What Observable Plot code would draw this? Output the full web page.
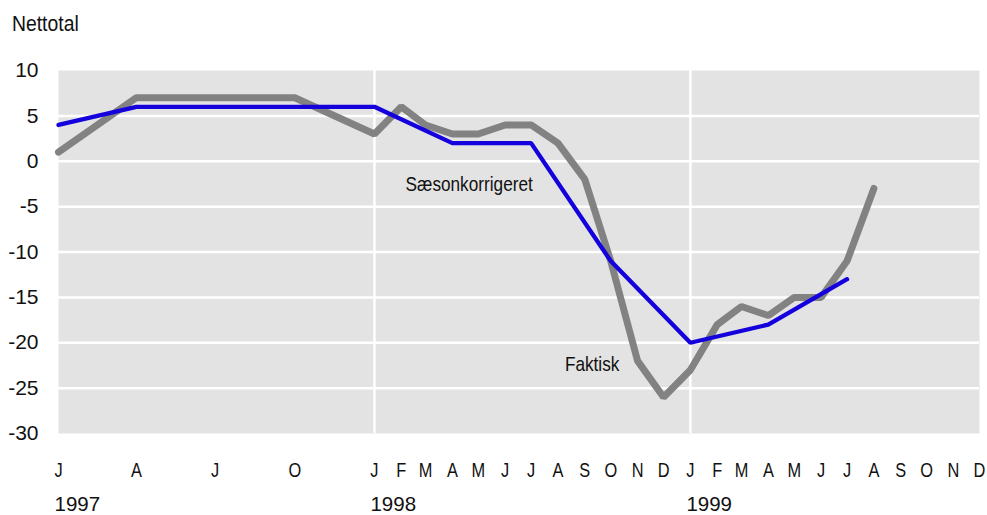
<!DOCTYPE html>
<html>
<head>
<meta charset="utf-8">
<script src="https://cdn.jsdelivr.net/npm/d3@7"></script>
<script src="https://cdn.jsdelivr.net/npm/@observablehq/plot@0.6"></script>
<style>
  body { margin: 0; background: #fff; }
  #wrap { width: 987px; font-family: 'Liberation Sans Narrow', 'Arial Narrow', 'Liberation Sans', Arial, sans-serif; color: #111; }
  #title { height: 50px; box-sizing: border-box; padding: 13px 0 0 12px; font-size: 22.5px; line-height: 22px; }
  #title span { display: inline-block; transform: scaleX(0.86); transform-origin: 0 0; }
</style>
</head>
<body>
<div id="wrap">
  <div id="title"><span>Nettotal</span></div>
  <div id="chart"></div>
</div>
<script>
// ---- data ----
const faktiskMonths = ["1997-01","1997-04","1997-07","1997-10",
  "1998-01","1998-02","1998-03","1998-04","1998-05","1998-06","1998-07","1998-08","1998-09","1998-10","1998-11","1998-12",
  "1999-01","1999-02","1999-03","1999-04","1999-05","1999-06","1999-07","1999-08"];
const faktiskValues = [1, 7, 7, 7,
  3, 6, 4, 3, 3, 4, 4, 2, -2, -11, -22, -26,
  -23, -18, -16, -17, -15, -15, -11, -3];

const saesonMonths = ["1997-01","1997-04","1997-07","1997-10",
  "1998-01","1998-04","1998-07","1998-10",
  "1999-01","1999-04","1999-07"];
const saesonValues = [4, 6, 6, 6, 6, 2, 2, -11, -20, -18, -13];

const monthLetters = ["J","F","M","A","M","J","J","A","S","O","N","D"];
const tickMonths = ["1997-01","1997-04","1997-07","1997-10",
  "1998-01","1998-02","1998-03","1998-04","1998-05","1998-06","1998-07","1998-08","1998-09","1998-10","1998-11","1998-12",
  "1999-01","1999-02","1999-03","1999-04","1999-05","1999-06","1999-07","1999-08","1999-09","1999-10","1999-11","1999-12"];
const yearLabels = ["1997","1998","1999"];
const yearStarts = ["1997-01","1998-01","1999-01"];
const yTicks = [-30,-25,-20,-15,-10,-5,0,5,10];
const yGrid = [-25,-20,-15,-10,-5,0,5];
const xGrid = ["1998-01","1999-01"];
const seriesLabels = ["Sæsonkorrigeret","Faktisk"];
const seriesLabelDates = ["1998-02-06","1998-08-09"];
const seriesLabelValues = [-2.5, -22.4];

// ---- build ----
const pm = d3.utcParse("%Y-%m");
const pd = d3.utcParse("%Y-%m-%d");
const faktisk = faktiskMonths.map((m,i) => ({date: pm(m), value: faktiskValues[i]}));
const saeson = saesonMonths.map((m,i) => ({date: pm(m), value: saesonValues[i]}));
const ticks = tickMonths.map(pm);
const years = yearLabels.map((t,i) => ({date: pm(yearStarts[i]), text: t}));
const annots = seriesLabels.map((t,i) => ({date: pd(seriesLabelDates[i]), value: seriesLabelValues[i], text: t}));

const font = "'Liberation Sans Narrow', 'Arial Narrow', 'Liberation Sans', Arial, sans-serif";

const chart = Plot.plot({
  width: 987,
  height: 465,
  marginLeft: 58,
  marginRight: 8,
  marginTop: 20,
  marginBottom: 82,
  style: {fontFamily: font, color: "#111", background: "#fff", overflow: "visible"},
  x: {type: "utc", domain: [pm("1997-01"), pm("1999-12")]},
  y: {domain: [-30, 10]},
  marks: [
    Plot.frame({fill: "#e3e3e3", stroke: null}),
    Plot.ruleY(yGrid, {stroke: "#fff", strokeWidth: 2.5}),
    Plot.ruleX(xGrid.map(pm), {stroke: "#fff", strokeWidth: 2.5}),
    Plot.line(faktisk, {x: "date", y: "value", stroke: "#828282", strokeWidth: 7, strokeLinejoin: "miter", strokeLinecap: "round"}),
    Plot.line(saeson, {x: "date", y: "value", stroke: "#1400dc", strokeWidth: 4.3, strokeLinejoin: "miter", strokeLinecap: "round"}),
    Plot.text(annots, {x: "date", y: "value", text: "text", textAnchor: "start", fontSize: 21, fill: "#111"}),
    Plot.axisY({ticks: yTicks, tickSize: 0, tickPadding: 20, fontSize: 21, label: null, tickFormat: d => String(d)}),
    Plot.axisX({ticks: ticks, tickSize: 0, tickPadding: 29, fontSize: 20, label: null, tickFormat: d => monthLetters[d.getUTCMonth()]}),
    Plot.text(years, {x: "date", text: "text", frameAnchor: "bottom", dy: 77, dx: -4, textAnchor: "start", fontSize: 20.5, fill: "#111"})
  ]
});
document.getElementById("chart").appendChild(chart);

// emulate a narrow typeface for alphabetic labels (no narrow font installed)
const sx = 0.82;
chart.querySelectorAll("text").forEach(el => {
  if (!/[A-Za-zæøå]/i.test(el.textContent)) return;
  const b = el.getBBox();
  const anchor = getComputedStyle(el).textAnchor;
  const cx = anchor === "start" ? b.x : anchor === "end" ? b.x + b.width : b.x + b.width / 2;
  const t = el.getAttribute("transform") || "";
  el.setAttribute("transform", `${t} translate(${cx},0) scale(${sx},1) translate(${-cx},0)`.trim());
});
</script>
</body>
</html>
